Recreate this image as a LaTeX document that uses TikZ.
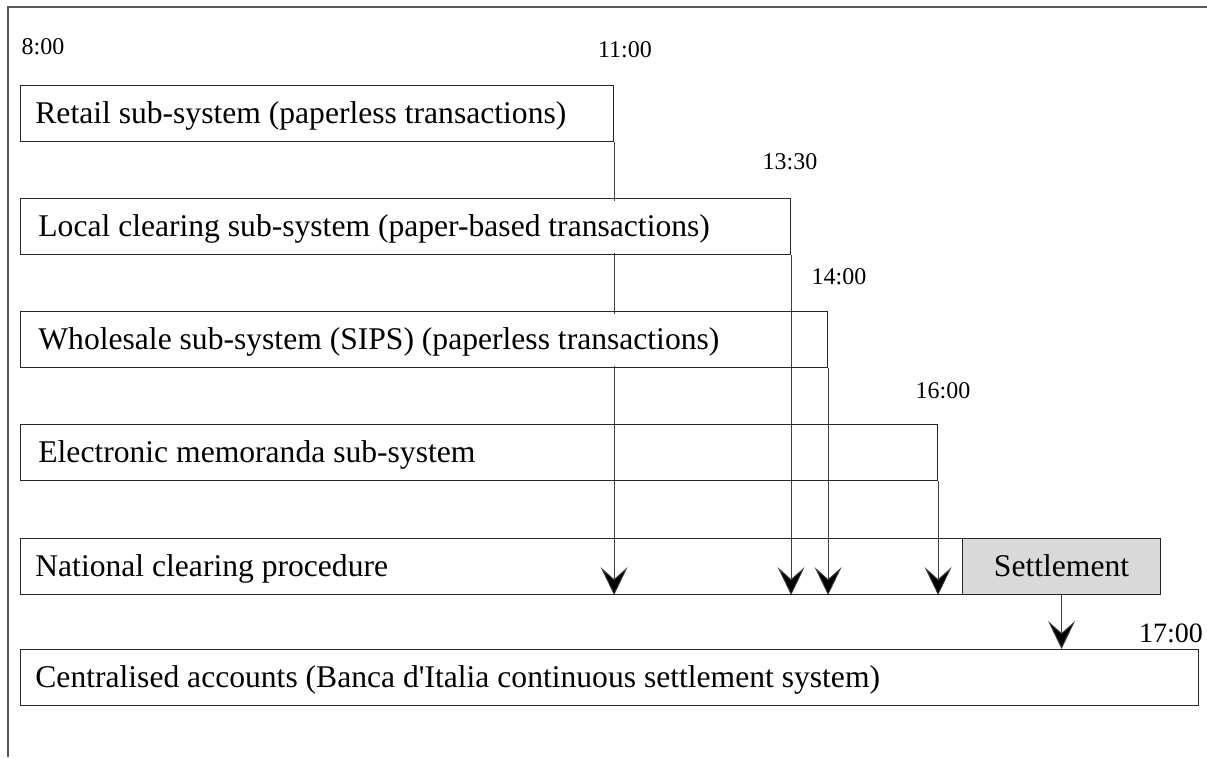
\documentclass[tikz,border=0pt]{standalone}
\usepackage{fontspec}
\setmainfont{Liberation Serif}
\usetikzlibrary{arrows.meta}
\pgfdeclarelayer{back}
\pgfsetlayers{back,main}

\begin{document}
\begin{tikzpicture}[x=0.5pt,y=-0.5pt,
  frame/.style={draw=black!65,line width=0.6pt},
  stage/.style={draw=black!85,line width=0.55pt,rectangle,inner sep=0pt,
    anchor=north west,minimum height=28pt},
  boxfont/.style={font=\fontsize{15.8}{18}\selectfont,text height=10.4pt,text depth=0pt},
  boxtext/.style={boxfont,fill=white,inner xsep=1pt,inner ysep=0pt,
    minimum height=26pt,anchor=west},
  clock/.style={font=\fontsize{12}{14}\selectfont,inner sep=0pt},
  feed/.style={draw=black!75,line width=0.45pt,
    -{Stealth[length=14pt,width=13.5pt,inset=6pt,fill=black]}},
]
\useasboundingbox (0,0) rectangle (1207,757);

% page frame
\draw[frame] (8,757) -- (8,7) -- (1207,7);

% sub-system boxes
\node[stage,minimum width=296.5pt] (retail)    at (20,85)  {};
\node[stage,minimum width=385pt]   (local)     at (20,198) {};
\node[stage,minimum width=403.5pt] (wholesale) at (20,311) {};
\node[stage,minimum width=458.5pt] (memo)      at (20,424) {};
\node[stage,minimum width=471pt]   (national)  at (20,538) {};
\node[stage,boxfont,minimum width=99pt,fill=black!15] (settle) at (962,538) {Settlement};
\node[stage,minimum width=589pt]   (central)   at (20,649) {};

% box captions
\node[boxtext] (retailtxt)    at ([xshift=6.5pt]retail.west)    {Retail sub-system (paperless transactions)};
\node[boxtext] (localtxt)     at ([xshift=8pt]local.west)       {Local clearing sub-system (paper-based transactions)};
\node[boxtext] (wholesaletxt) at ([xshift=8pt]wholesale.west)   {Wholesale sub-system (SIPS) (paperless transactions)};
\node[boxtext] (memotxt)      at ([xshift=8pt]memo.west)        {Electronic memoranda sub-system};
\node[boxtext] (nationaltxt)  at ([xshift=6.5pt]national.west)  {National clearing procedure};
\node[boxtext] (centraltxt)   at ([xshift=6.5pt]central.west)   {Centralised accounts (Banca d\textquotesingle Italia continuous settlement system)};

% cut-off times
\node[clock] (t0800) at (43,47)    {8:00};
\node[clock] (t1100) at (625,50)   {11:00};
\node[clock] (t1330) at (790,162)  {13:30};
\node[clock] (t1400) at (839,277)  {14:00};
\node[clock] (t1600) at (943,391)  {16:00};
\node[clock,font=\fontsize{14}{16}\selectfont] (t1700) at (1171,633) {17:00};

% flows into the national clearing and to settlement
\begin{pgfonlayer}{back}
\draw[feed] (retail.south east)    -- (retail.south east |- national.south);
\draw[feed] (local.south east)     -- (local.south east |- national.south);
\draw[feed] (wholesale.south east) -- (wholesale.south east |- national.south);
\draw[feed] (memo.south east)      -- (memo.south east |- national.south);
\draw[feed] (settle.south)         -- (settle.south |- central.north);
\end{pgfonlayer}
\end{tikzpicture}
\end{document}
